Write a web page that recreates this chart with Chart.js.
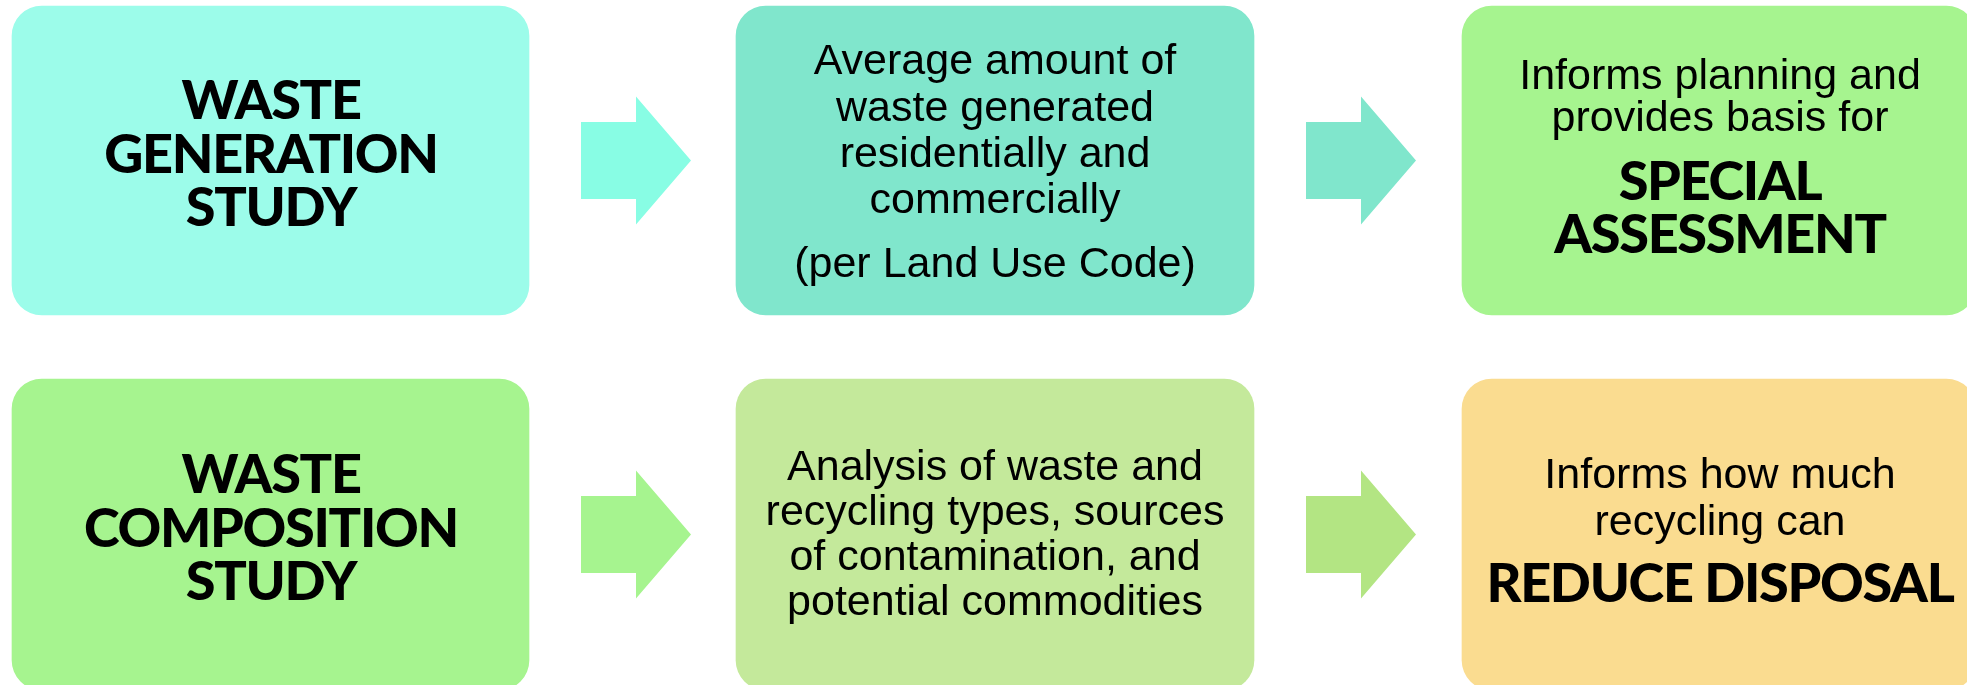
<!DOCTYPE html>
<html>
<head>
<meta charset="utf-8">
<script src="https://cdn.jsdelivr.net/npm/chart.js@4.4.1/dist/chart.umd.min.js"></script>
<style>
    html, body { margin: 0; padding: 0; background: #ffffff; overflow: hidden; }
    #wrap { width: 1967px; height: 685px; }
</style>
</head>
<body>
<div id="wrap"><canvas id="flow" width="1967" height="685"></canvas></div>
<script>
// 流程图文本
const studyTitles = [
    ['WASTE', 'GENERATION', 'STUDY'],
    ['WASTE', 'COMPOSITION', 'STUDY']
];
const studyDetails = [
    ['Average amount of', 'waste generated', 'residentially and', 'commercially', '(per Land Use Code)'],
    ['Analysis of waste and', 'recycling types, sources', 'of contamination, and', 'potential commodities']
];
const outcomeLeads = [
    ['Informs planning and', 'provides basis for'],
    ['Informs how much', 'recycling can']
];
const outcomeResults = [
    ['SPECIAL', 'ASSESSMENT'],
    ['REDUCE DISPOSAL']
];

// 布局 (画布坐标)
const layout = {
    cols: [
        { x0: 12, x1: 529, cx: 271 },
        { x0: 736, x1: 1254, cx: 995 },
        { x0: 1462, x1: 1976, cx: 1720 }
    ],
    rows: [
        { y0: 6, y1: 315, title: [119, 173, 226], detail: [74, 121, 167, 213, 277], lead: [89, 131], result: [200, 253] },
        { y0: 379, y1: 690, title: [493, 547, 600], detail: [480, 525, 570, 615], lead: [488, 535], result: [602] }
    ],
    arrows: [
        { x0: 581, xh: 636, x1: 691 },
        { x0: 1306, xh: 1361, x1: 1416 }
    ],
    shaftHalf: 38.5,
    headHalf: 64
};

// 颜色与字体
const styles = {
    boxes: [['#9cfcea', '#80e6cc', '#a6f48f'], ['#a6f48f', '#c4e99b', '#fadc90']],
    arrows: [['#88fde4', '#80e6cc'], ['#a6f48f', '#b3e583']],
    boldFont: '900 54px Lato',
    boldSpacing: '-1.3px',
    textFont: '400 43px "Liberation Sans", Arial, sans-serif',
    textSpacing: '0px'
};

const datasets = layout.rows.map((row, r) => ({
    data: layout.cols.map(col => ({ y: (row.y0 + row.y1) / 2, x: [col.x0, col.x1] })),
    backgroundColor: styles.boxes[r],
    barThickness: row.y1 - row.y0,
    borderRadius: 30,
    borderSkipped: false,
    borderWidth: 0,
    grouped: false
}));

const flowPlugin = {
    id: 'flowPlugin',
    afterDatasetsDraw(chart) {
        const ctx = chart.ctx;
        const xs = chart.scales.x;
        const ys = chart.scales.y;
        const px = v => xs.getPixelForValue(v);
        const py = v => ys.getPixelForValue(v);

        // 箭头
        layout.rows.forEach((row, r) => {
            const cy = (row.y0 + row.y1) / 2;
            layout.arrows.forEach((a, i) => {
                ctx.save();
                ctx.fillStyle = styles.arrows[r][i];
                ctx.beginPath();
                ctx.moveTo(px(a.x0), py(cy - layout.shaftHalf));
                ctx.lineTo(px(a.xh), py(cy - layout.shaftHalf));
                ctx.lineTo(px(a.xh), py(cy - layout.headHalf));
                ctx.lineTo(px(a.x1), py(cy));
                ctx.lineTo(px(a.xh), py(cy + layout.headHalf));
                ctx.lineTo(px(a.xh), py(cy + layout.shaftHalf));
                ctx.lineTo(px(a.x0), py(cy + layout.shaftHalf));
                ctx.closePath();
                ctx.fill();
                ctx.restore();
            });
        });

        // 文字
        const drawLines = (lines, baselines, cx, font, spacing) => {
            ctx.save();
            ctx.font = font;
            if ('letterSpacing' in ctx) ctx.letterSpacing = spacing;
            ctx.fillStyle = '#000000';
            ctx.textAlign = 'center';
            ctx.textBaseline = 'alphabetic';
            lines.forEach((t, i) => ctx.fillText(t, px(cx), py(baselines[i])));
            ctx.restore();
        };
        layout.rows.forEach((row, r) => {
            drawLines(studyTitles[r], row.title, layout.cols[0].cx, styles.boldFont, styles.boldSpacing);
            drawLines(studyDetails[r], row.detail, layout.cols[1].cx, styles.textFont, styles.textSpacing);
            drawLines(outcomeLeads[r], row.lead, layout.cols[2].cx, styles.textFont, styles.textSpacing);
            drawLines(outcomeResults[r], row.result, layout.cols[2].cx, styles.boldFont, styles.boldSpacing);
        });
    }
};

new Chart(document.getElementById('flow').getContext('2d'), {
    type: 'bar',
    data: { datasets },
    options: {
        indexAxis: 'y',
        responsive: false,
        animation: false,
        events: [],
        layout: { padding: 0 },
        plugins: { legend: { display: false }, tooltip: { enabled: false } },
        scales: {
            x: { type: 'linear', min: 0, max: 1967, offset: false, display: false },
            y: { type: 'linear', min: 0, max: 685, reverse: true, offset: false, display: false }
        }
    },
    plugins: [flowPlugin]
});
</script>
</body>
</html>
